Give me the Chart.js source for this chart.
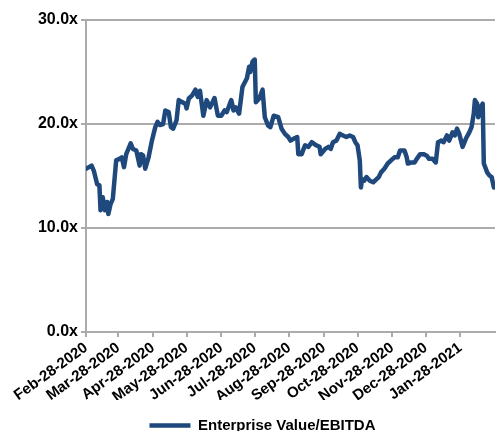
<!DOCTYPE html>
<html><head><meta charset="utf-8">
<script src="https://cdn.jsdelivr.net/npm/chart.js@4.4.1/dist/chart.umd.min.js"></script>
<style>html,body{margin:0;padding:0;background:#fff;} #wrap{width:498px;height:431px;position:relative;}</style>
</head><body><div id="wrap"><canvas id="c"></canvas></div>
<script>
const seriesName = 'Enterprise Value/EBITDA';
// days since Feb-28-2020
const dayOffsets = [0,5,7,10,12,13,15,17,19,20,22,24,27,30,32,34,36,40,42,45,48,49,51,53,56,59,62,64,66,69,71,74,76,78,81,83,86,89,90,92,95,98,100,102,105,108,111,115,118,121,124,126,130,132,134,137,140,144,146,147,149,151,152,155,158,160,163,165,168,172,175,178,181,183,186,189,190,193,196,199,202,206,209,210,214,217,219,221,224,227,230,233,236,239,241,243,245,246,247,249,251,254,257,260,262,264,267,270,273,276,279,281,285,287,288,291,294,296,299,302,305,307,310,313,315,318,320,323,325,328,330,332,334,337,340,343,345,347,348,350,351,353,355,356,359,361,363,364,365];
const evEbitda = [15.7,16.0,15.5,14.2,14.1,11.7,12.95,11.7,12.5,11.35,12.3,12.8,16.5,16.65,16.8,15.85,17.1,18.15,17.6,17.45,16.0,17.1,17.0,15.7,16.8,18.4,19.7,20.2,19.9,20.0,21.3,21.15,19.7,19.55,20.35,22.3,22.1,21.95,21.5,22.45,22.75,23.3,22.6,23.2,20.8,22.3,21.6,22.5,20.8,20.8,21.3,21.15,22.3,21.3,21.6,21.0,23.55,24.4,25.5,25.0,26.0,26.2,22.1,22.45,23.3,20.65,19.85,19.7,20.8,20.65,19.55,19.05,18.75,18.4,18.6,18.75,17.1,17.1,17.95,17.8,18.25,17.95,17.8,17.1,17.6,17.8,17.6,18.25,18.4,19.05,18.9,18.75,18.9,18.75,18.25,17.95,16.5,13.9,14.7,14.55,14.9,14.55,14.4,14.7,14.9,15.35,15.7,16.2,16.5,16.8,16.8,17.45,17.45,16.8,16.2,16.3,16.3,16.65,17.1,17.1,16.95,16.65,16.65,16.3,18.25,18.4,18.25,18.9,18.4,19.2,18.9,19.55,19.05,17.8,18.6,19.2,19.7,21.0,22.3,21.95,20.65,21.6,21.95,16.2,15.35,15.05,14.9,14.4,13.9];
const tickDays = [0,29,60,90,121,151,182,213,243,274,304,335];
const tickLabels = ['Feb-28-2020','Mar-28-2020','Apr-28-2020','May-28-2020','Jun-28-2020','Jul-28-2020','Aug-28-2020','Sep-28-2020','Oct-28-2020','Nov-28-2020','Dec-28-2020','Jan-28-2021'];
const yTicks = [0,10,20,30];

const FONT = 'Liberation Sans, Arial, sans-serif';
const gridCol = '#ababab';
const legendShift = {
  id: 'legendShift',
  afterLayout(chart) {
    const l = chart.legend;
    if (l) { l.left += 15; l.right += 15; l.top += 12; l.bottom += 12; }
  }
};
new Chart(document.getElementById('c'), {
  type: 'line',
  data: { datasets: [{
    label: seriesName,
    data: dayOffsets.map((d, i) => ({ x: d, y: evEbitda[i] })),
    borderColor: '#1f497d', backgroundColor: '#1f497d',
    borderWidth: 4.5, pointRadius: 0, tension: 0,
    borderCapStyle: 'round', borderJoinStyle: 'round', pointStyle: 'line'
  }]},
  options: {
    responsive: true, maintainAspectRatio: false, animation: false,
    layout: { padding: { top: 20, right: 3, left: 0, bottom: 0 } },
    scales: {
      x: {
        type: 'linear', min: 0, max: 366,
        afterBuildTicks: s => { s.ticks = tickDays.map(v => ({ value: v })); },
        ticks: { autoSkip: false, minRotation: 36, maxRotation: 36, padding: 2, color: '#000',
          font: { family: FONT, weight: 'bold', size: 15 },
          callback: v => { const i = tickDays.indexOf(v); return i >= 0 ? tickLabels[i] : ''; } },
        grid: { drawOnChartArea: false, tickLength: 5, color: gridCol, lineWidth: 2 },
        border: { color: gridCol, width: 2 },
        afterFit: s => { s.height = 68; }
      },
      y: {
        min: 0, max: 30,
        afterBuildTicks: s => { s.ticks = yTicks.map(v => ({ value: v })); },
        ticks: { padding: 3, color: '#000', font: { family: FONT, weight: 'bold', size: 16 },
          callback: v => Number(v).toFixed(1) + 'x' },
        grid: { color: gridCol, lineWidth: 2, tickLength: 5 },
        border: { color: gridCol, width: 2 },
        afterFit: s => { s.width = 86; }
      }
    },
    plugins: {
      legend: { position: 'bottom',
        labels: { usePointStyle: true, pointStyleWidth: 41, color: '#000', padding: 6,
          font: { family: FONT, weight: 'bold', size: 15 } } },
      tooltip: { enabled: false }
    }
  },
  plugins: [legendShift]
});
</script></body></html>
